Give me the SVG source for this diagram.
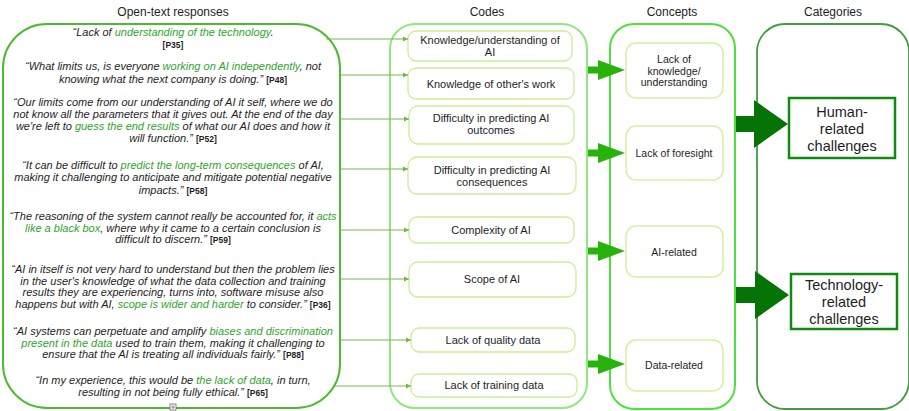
<svg xmlns="http://www.w3.org/2000/svg" width="909" height="411" viewBox="0 0 909 411">
<style>
text{font-family:'Liberation Sans',Arial,Helvetica,sans-serif;fill:#1e1e1e}
.title{font-size:12px;text-anchor:middle}
.q{font-size:11px;font-style:italic;text-anchor:middle}
.g{fill:#2fa52c}
.p{font-size:8.5px;font-weight:bold;font-style:normal}
.code{fill:#fff;stroke:#c8ef95;stroke-width:1.3}
.ct{font-size:11px;text-anchor:middle}
.concept{fill:#fff;stroke:#d3f2a0;stroke-width:1.5}
.cn{font-size:10.5px;text-anchor:middle}
.cat{fill:#fff;stroke:#118a11;stroke-width:2.5}
.catt{font-size:14.5px;text-anchor:middle}
.conn{stroke:#79b54f;stroke-width:1;fill:none}
.mid{fill:#27b20c}
.dark{fill:#067306}
</style>
<defs>
<marker id="ah" markerUnits="userSpaceOnUse" markerWidth="6" markerHeight="6" refX="5" refY="3" orient="auto">
<path d="M0,0.5 L5,3 L0,5.5 Z" fill="#79b54f"/>
</marker>
</defs>

<!-- column titles -->
<text class="title" x="173" y="16">Open-text responses</text>
<text class="title" x="487" y="16">Codes</text>
<text class="title" x="672" y="16">Concepts</text>
<text class="title" x="833" y="16">Categories</text>

<!-- panels -->
<g id="panel-responses">
<rect x="3" y="24" width="337" height="384" rx="44" ry="44" fill="#fff" stroke="#4cbb2e" stroke-width="2"/>
<rect x="170" y="404" width="6" height="6" fill="#fff" stroke="#666" stroke-width="0.8"/>
<path d="M173,405 V409 M171,407 H175" stroke="#666" stroke-width="0.7"/>
</g>
<g id="panel-codes">
<rect x="390" y="24" width="197" height="384" rx="25" ry="25" fill="#fff" stroke="#8fe87d" stroke-width="2"/>
</g>
<g id="panel-concepts">
<rect x="610" y="24" width="125" height="385" rx="24" ry="24" fill="#fff" stroke="#4fe040" stroke-width="2"/>
</g>
<g id="panel-categories">
<rect x="757" y="24" width="152" height="385" rx="28" ry="28" fill="#fff" stroke="#3f9f3f" stroke-width="1.8"/>
</g>

<!-- quotes -->
<g id="quote-p35">
<text class="q" x="173" y="36">“Lack of <tspan class="g">understanding of the technology</tspan>.</text>
<text class="q" x="173" y="48"><tspan class="p">[P35]</tspan></text>
</g>
<g id="quote-p48">
<text class="q" x="173" y="70">“What limits us, is everyone <tspan class="g">working on AI independently</tspan>, not</text>
<text class="q" x="173" y="83">knowing what the next company is doing.” <tspan class="p">[P48]</tspan></text>
</g>
<g id="quote-p52">
<text class="q" x="173" y="106">“Our limits come from our understanding of AI it self, where we do</text>
<text class="q" x="173" y="118">not know all the parameters that it gives out. At the end of the day</text>
<text class="q" x="173" y="130">we're left to <tspan class="g">guess the end results</tspan> of what our AI does and how it</text>
<text class="q" x="173" y="142">will function.” <tspan class="p">[P52]</tspan></text>
</g>
<g id="quote-p58">
<text class="q" x="173" y="169">“It can be difficult to <tspan class="g">predict the long-term consequences</tspan> of AI,</text>
<text class="q" x="173" y="181">making it challenging to anticipate and mitigate potential negative</text>
<text class="q" x="173" y="194">impacts.” <tspan class="p">[P58]</tspan></text>
</g>
<g id="quote-p59">
<text class="q" x="173" y="220">“The reasoning of the system cannot really be accounted for, it <tspan class="g">acts</tspan></text>
<text class="q" x="173" y="232"><tspan class="g">like a black box</tspan>, where why it came to a certain conclusion is</text>
<text class="q" x="173" y="243">difficult to discern.” <tspan class="p">[P59]</tspan></text>
</g>
<g id="quote-p36">
<text class="q" x="173" y="273">“AI in itself is not very hard to understand but then the problem lies</text>
<text class="q" x="173" y="285">in the user's knowledge of what the data collection and training</text>
<text class="q" x="173" y="296">results they are experiencing, turns into, software misuse also</text>
<text class="q" x="173" y="308">happens but with AI, <tspan class="g">scope is wider and harder</tspan> to consider.” <tspan class="p">[P36]</tspan></text>
</g>
<g id="quote-p88">
<text class="q" x="173" y="335">“AI systems can perpetuate and amplify <tspan class="g">biases and discrimination</tspan></text>
<text class="q" x="173" y="347"><tspan class="g">present in the data</tspan> used to train them, making it challenging to</text>
<text class="q" x="173" y="358">ensure that the AI is treating all individuals fairly.” <tspan class="p">[P88]</tspan></text>
</g>
<g id="quote-p65">
<text class="q" x="173" y="384">“In my experience, this would be <tspan class="g">the lack of data</tspan>, in turn,</text>
<text class="q" x="173" y="396">resulting in not being fully ethical.” <tspan class="p">[P65]</tspan></text>
</g>

<!-- codes -->
<g id="code-knowledge-ai">
<rect class="code" x="408" y="31" width="164" height="30" rx="8"/>
<text class="ct" x="490" y="44">Knowledge/understanding of</text>
<text class="ct" x="490" y="56">AI</text>
</g>
<g id="code-others-work">
<rect class="code" x="408" y="68" width="166" height="31" rx="8"/>
<text class="ct" x="491" y="88">Knowledge of other's work</text>
</g>
<g id="code-outcomes">
<rect class="code" x="409" y="106" width="165" height="38" rx="9"/>
<text class="ct" x="491" y="122">Difficulty in predicting AI</text>
<text class="ct" x="491" y="134">outcomes</text>
</g>
<g id="code-consequences">
<rect class="code" x="408" y="157" width="168" height="37" rx="9"/>
<text class="ct" x="492" y="174">Difficulty in predicting AI</text>
<text class="ct" x="492" y="186">consequences</text>
</g>
<g id="code-complexity">
<rect class="code" x="409" y="217" width="165" height="26" rx="8"/>
<text class="ct" x="491" y="234">Complexity of AI</text>
</g>
<g id="code-scope">
<rect class="code" x="409" y="262" width="167" height="35" rx="9"/>
<text class="ct" x="492" y="283">Scope of AI</text>
</g>
<g id="code-quality-data">
<rect class="code" x="411" y="328" width="164" height="24" rx="8"/>
<text class="ct" x="493" y="344">Lack of quality data</text>
</g>
<g id="code-training-data">
<rect class="code" x="411" y="374" width="166" height="23" rx="8"/>
<text class="ct" x="494" y="389">Lack of training data</text>
</g>

<!-- concepts -->
<g id="concept-knowledge">
<rect class="concept" x="626" y="43" width="97" height="55" rx="10"/>
<text class="cn" x="674" y="63">Lack of</text>
<text class="cn" x="674" y="74.5">knowledge/</text>
<text class="cn" x="674" y="86">understanding</text>
</g>
<g id="concept-foresight">
<rect class="concept" x="626" y="126" width="97" height="54" rx="10"/>
<text class="cn" x="674" y="157">Lack of foresight</text>
</g>
<g id="concept-ai">
<rect class="concept" x="626" y="226" width="97" height="51" rx="10"/>
<text class="cn" x="674" y="255.5">AI-related</text>
</g>
<g id="concept-data">
<rect class="concept" x="626" y="340" width="97" height="51" rx="10"/>
<text class="cn" x="674" y="369">Data-related</text>
</g>

<!-- categories -->
<g id="category-human">
<rect class="cat" x="789" y="98" width="106" height="60"/>
<text class="catt" x="842" y="117">Human-</text>
<text class="catt" x="842" y="133.5">related</text>
<text class="catt" x="842" y="151">challenges</text>
</g>
<g id="category-technology">
<rect class="cat" x="791" y="274" width="106" height="55"/>
<text class="catt" x="844" y="290">Technology-</text>
<text class="catt" x="844" y="307">related</text>
<text class="catt" x="844" y="324">challenges</text>
</g>

<!-- connectors -->
<g id="connectors">
<line class="conn" x1="326" y1="39" x2="408" y2="39" marker-end="url(#ah)"/>
<line class="conn" x1="340" y1="75" x2="408" y2="75" marker-end="url(#ah)"/>
<line class="conn" x1="340" y1="119" x2="409" y2="119" marker-end="url(#ah)"/>
<line class="conn" x1="340" y1="169" x2="408" y2="169" marker-end="url(#ah)"/>
<line class="conn" x1="340" y1="230" x2="409" y2="230" marker-end="url(#ah)"/>
<line class="conn" x1="340" y1="279" x2="409" y2="279" marker-end="url(#ah)"/>
<line class="conn" x1="341" y1="340" x2="411" y2="340" marker-end="url(#ah)"/>
<line class="conn" x1="333" y1="386" x2="411" y2="386" marker-end="url(#ah)"/>

<polygon class="mid" points="588,66.5 598,66.5 598,60 625,70 598,80 598,73.5 588,73.5"/>
<polygon class="mid" points="588,149.5 598,149.5 598,143 625,153 598,163 598,156.5 588,156.5"/>
<polygon class="mid" points="588,247.5 598,247.5 598,241 625,251 598,261 598,254.5 588,254.5"/>
<polygon class="mid" points="588,360.5 598,360.5 598,354 625,364 598,374 598,367.5 588,367.5"/>

<polygon class="dark" points="736,116 754,116 754,100 788,124 754,148 754,132 736,132"/>
<polygon class="dark" points="736,287 755,287 755,271 789,295 755,319 755,303 736,303"/>
</g>
</svg>
